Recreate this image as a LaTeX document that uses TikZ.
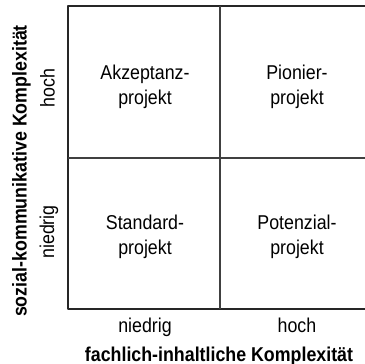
\documentclass[tikz,border=0pt]{standalone}
\usepackage{fontspec}
\setmainfont{Liberation Sans}[FakeStretch=0.89]

\begin{document}
\begin{tikzpicture}[x=1pt, y=-1pt, font=\fontsize{20}{25}\selectfont, line join=round,
		feld/.style={align=center},
		stufe/.style={anchor=base},
		achse/.style={font=\fontsize{20}{25}\selectfont\bfseries}]
		\def\xl{68} \def\xm{220} \def\xr{372}
		\def\yt{6} \def\ym{158} \def\yb{309}
		\useasboundingbox (0,0) rectangle (365,364);
		\clip (0,0) rectangle (365,364);
		% Raster
		\draw[line width=1.6pt, black!85] (\xr,\yt) -- (\xl,\yt) -- (\xl,\yb) -- (\xr,\yb);
		\draw[line width=1.6pt, black!75] (\xm,\yt) -- (\xm,\yb) (\xl,\ym) -- (\xr,\ym);
		% Felder
		\node[feld] (akzeptanz) at (145,86.5) {Akzeptanz-\\projekt};
		\node[feld] (pionier) at (297,86.5) {Pionier-\\projekt};
		\node[feld] (standard) at (145,236.5) {Standard-\\projekt};
		\node[feld] (potenzial) at (297,236.5) {Potenzial-\\projekt};
		% Achsen
		\node[stufe] (xniedrig) at (145,332) {niedrig};
		\node[stufe] (xhoch) at (297,332) {hoch};
		\node[rotate=90] (yhoch) at (47.5,88) {hoch};
		\node[rotate=90] (yniedrig) at (49,232) {niedrig};
		\node[achse, anchor=base] (xtitel) at (219,361) {fachlich-inhaltliche Komplexität};
		\node[achse, rotate=90] (ytitel) at (21.5,171) {sozial-kommunikative Komplexität};
	\end{tikzpicture}
\end{document}
